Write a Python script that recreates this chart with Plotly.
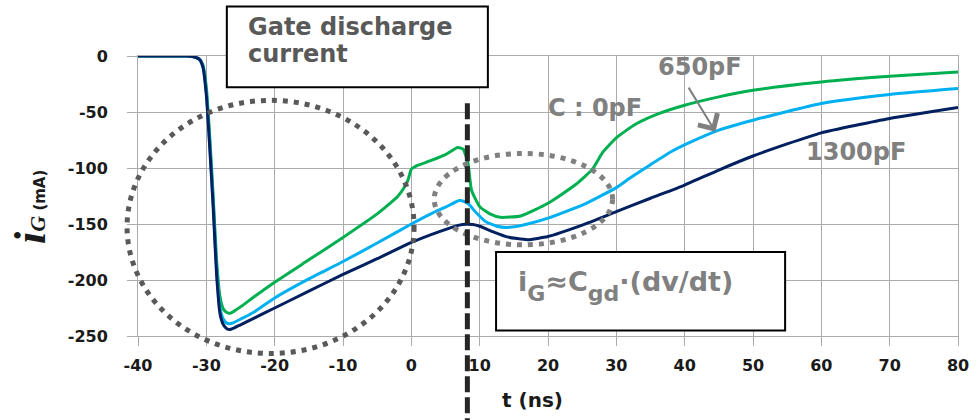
import plotly.graph_objects as go

# ---------------- data ----------------
t_0pF = [-40, -33, -32, -31, -30.5, -30, -29.5, -29, -28.5, -28, -27.5, -27, -26.4, -26, -25, -23,
         -20, -15, -10, -5, -3, -2, -1, -0.5, 0, 0.5, 1, 3, 5, 6.8, 7.6, 8.3, 8.8, 10, 11.5, 13,
         16, 20, 24, 26.5, 28, 30, 32.8, 36.3, 40, 45, 50, 60, 70, 80]
i_0pF = [0, 0, -0.5, -3, -8, -28, -72, -125, -182, -215, -226, -229, -229.5, -228, -224, -215,
         -202, -182, -162, -141, -131, -125.5, -117, -111, -101, -99, -97.5, -93, -88, -81.6, -83.4, -96, -119.6, -134.5, -141, -144,
         -142.8, -131.5, -115, -101, -86, -73, -61, -51.3, -44, -36.5, -30.6, -23.2, -18.1, -14.2]

t_650pF = [-40, -33, -32, -31, -30.5, -30, -29.5, -29, -28.5, -28, -27.5, -27, -26.6, -26, -25, -23,
           -20, -15, -10, -5, 0, 3, 5, 7, 7.6, 8.5, 9.5, 10.9, 12.5, 14.3, 17, 20, 25.6, 30, 32,
           35, 38, 41, 45, 50, 60, 70, 80]
i_650pF = [0, 0, -0.5, -3, -9, -32, -78, -130, -190, -225, -235, -238.5, -239, -238, -235, -228.5,
           -216, -199, -183.5, -167, -150, -140.5, -135, -129, -129.5, -133, -140, -148, -152, -153, -150, -144.8, -131.5, -117.5, -109,
           -97, -85.5, -76.5, -66.2, -57.3, -42.4, -34.4, -29.1]

t_1300pF = [-40, -33, -32, -31, -30.5, -30, -29.5, -29, -28.5, -28, -27.5, -27, -26.6, -26, -25, -23,
            -20, -15, -10, -5, 0, 4, 7, 8, 9, 10, 12, 14, 17, 20, 25, 30, 35, 40, 45, 50, 55, 60, 70, 80]
i_1300pF = [0, 0, -0.5, -3, -10, -35, -82, -135, -195, -230, -240, -243.5, -244.3, -243, -240, -234,
            -225, -210, -195, -181, -166.5, -157, -151, -150.2, -150.5, -152, -157, -161.5, -164, -161.2, -151, -139, -127, -115.2, -101.8, -89.3, -78.5, -68.6, -55.8, -46]

x_ticks = [-40, -30, -20, -10, 0, 10, 20, 30, 40, 50, 60, 70, 80]
y_ticks = [-250, -200, -150, -100, -50, 0]

X_RANGE = [-40, 80]
Y_RANGE = [-250, 0]

GREEN = "#00b050"
LBLUE = "#00b0f0"
NAVY = "#002060"
GRID = "#ababab"


def xp(v):
    return (v - X_RANGE[0]) / (X_RANGE[1] - X_RANGE[0])


def yp(v):
    return (v - Y_RANGE[0]) / (Y_RANGE[1] - Y_RANGE[0])


fig = go.Figure()
for name, t, i, col in [("0pF", t_0pF, i_0pF, GREEN),
                        ("650pF", t_650pF, i_650pF, LBLUE),
                        ("1300pF", t_1300pF, i_1300pF, NAVY)]:
    fig.add_trace(go.Scatter(x=t, y=i, mode="lines", name=name, showlegend=False,
                             hoverinfo="skip",
                             line=dict(color=col, width=3, shape="spline", smoothing=0.5)))

shapes = [
    # big dotted ellipse
    dict(type="circle", xref="paper", yref="paper", layer="above",
         x0=xp(-41.6), x1=xp(0.4), y0=yp(-265.6), y1=yp(-39.6),
         line=dict(color="#595959", width=5, dash="5px,6px")),
    # small dotted ellipse
    dict(type="circle", xref="paper", yref="paper", layer="above",
         x0=xp(3.35), x1=xp(29.45), y0=yp(-168.6), y1=yp(-87.0),
         line=dict(color="#808080", width=5, dash="5px,6px")),
    # dashed vertical marker
    dict(type="line", xref="paper", yref="paper", layer="above",
         x0=xp(8.2), x1=xp(8.2), y0=yp(-42.2), y1=-0.32,
         line=dict(color="#262626", width=5, dash="16px,5px")),
    # text boxes
    dict(type="rect", xref="paper", yref="paper", layer="above",
         x0=xp(-27.0), x1=xp(11.2), y0=yp(-27.9), y1=yp(44.3),
         line=dict(color="black", width=2), fillcolor="white"),
    dict(type="rect", xref="paper", yref="paper", layer="above",
         x0=xp(12.4), x1=xp(54.7), y0=yp(-245.0), y1=yp(-175.1),
         line=dict(color="black", width=2), fillcolor="white"),
]

gate_font = dict(family="DejaVu Sans", size=24, color="#595959", weight="bold")
lab_font = dict(family="DejaVu Sans", size=24, color="#808080", weight="bold")
SUB = "<span style='font-size:22px;baseline-shift:-10px'>{}</span>"
annotations = [
    dict(x=-24.2, y=yp(25.5), xref="x", yref="paper", text="Gate discharge", showarrow=False,
         xanchor="left", yanchor="middle", font=gate_font),
    dict(x=-24.2, y=yp(1.5), xref="x", yref="paper", text="current", showarrow=False,
         xanchor="left", yanchor="middle", font=gate_font),
    dict(x=15.3, y=-205, xref="x", yref="y",
         text="i" + SUB.format("G") + "≈C" + SUB.format("gd") + "·(dv/dt)", showarrow=False,
         xanchor="left", yanchor="middle",
         font=dict(family="DejaVu Sans", size=27, color="#808080", weight="bold")),
    dict(x=26.9, y=-46.6, xref="x", yref="y", text="C : 0pF", showarrow=False,
         xanchor="center", yanchor="middle", font=lab_font),
    dict(x=42.2, y=-10.1, xref="x", yref="y", text="650pF", showarrow=False,
         xanchor="center", yanchor="middle", font=lab_font),
    dict(x=65.1, y=-85.8, xref="x", yref="y", text="1300pF", showarrow=False,
         xanchor="center", yanchor="middle", font=lab_font),
    # arrow 650pF
    dict(x=44.5, y=-67.7, xref="x", yref="y", ax=-27.7, ay=-45.7, text="",
         showarrow=True, arrowhead=4, arrowsize=2.2, arrowwidth=2, arrowcolor="#7f7f7f"),
    # axis titles
    dict(x=0.481, y=-0.229, xref="paper", yref="paper", text="<b>t (ns)</b>", showarrow=False,
         xanchor="center", yanchor="middle",
         font=dict(family="DejaVu Sans", size=20, color="#1a1a1a")),
    dict(x=-0.132, y=0.46, xref="paper", yref="paper", textangle=-90, showarrow=False,
         xanchor="center", yanchor="middle",
         text=("<span style='font-family:Liberation Serif;font-size:44px;font-style:italic;font-weight:bold'>i</span>"
               "<span style='font-family:Liberation Serif;font-size:22px;font-style:italic;font-weight:bold'>G</span>"
               "<span style='font-size:15px'><b> (mA)</b></span>"),
         font=dict(family="DejaVu Sans", size=15, color="#1a1a1a")),
]

tickfont = dict(family="DejaVu Sans", size=16, color="#1a1a1a", weight="bold")

fig.update_layout(
    width=980, height=420,
    margin=dict(l=138, r=22, t=56, b=84),
    plot_bgcolor="white", paper_bgcolor="white",
    shapes=shapes, annotations=annotations,
    xaxis=dict(range=X_RANGE, tickvals=x_ticks, ticktext=[str(v) for v in x_ticks],
               showgrid=True, gridcolor=GRID, gridwidth=1, zeroline=False,
               showline=True, linecolor=GRID, linewidth=1, mirror=True,
               ticks="outside", ticklen=9, tickcolor=GRID, tickwidth=1,
               tickfont=tickfont, ticklabelstandoff=6),
    yaxis=dict(range=Y_RANGE, tickvals=y_ticks, ticktext=[str(v) for v in y_ticks],
               showgrid=True, gridcolor=GRID, gridwidth=1, zeroline=False,
               showline=True, linecolor=GRID, linewidth=1, mirror=True,
               ticks="outside", ticklen=10, tickcolor=GRID, tickwidth=1,
               tickfont=tickfont, ticklabelstandoff=16),
)

fig.write_html("out.html", config={"displayModeBar": False},
               post_script="document.body.style.margin='0';")
